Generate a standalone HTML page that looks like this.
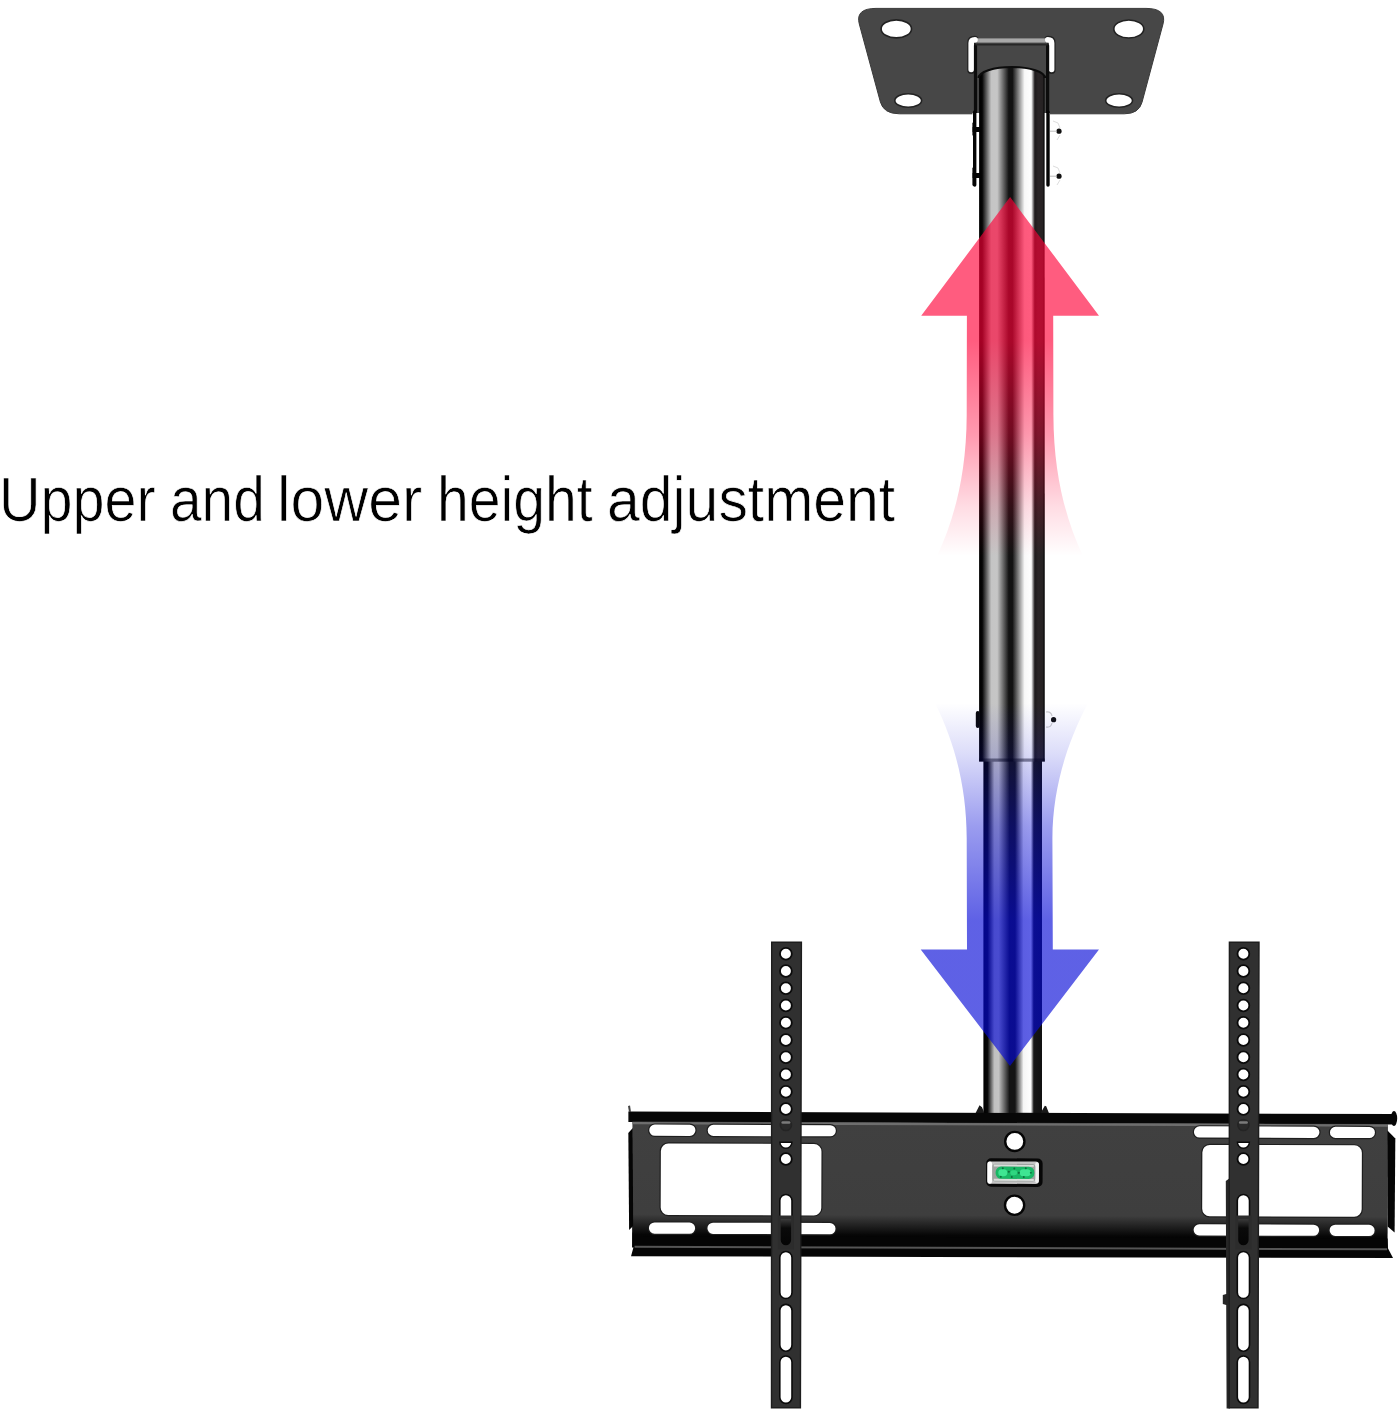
<!DOCTYPE html>
<html>
<head>
<meta charset="utf-8">
<title>Upper and lower height adjustment</title>
<style>
html,body{margin:0;padding:0;background:#fff;}
body{width:1399px;height:1418px;overflow:hidden;position:relative;font-family:"Liberation Sans",sans-serif;}
svg{position:absolute;left:0;top:0;display:block;filter:blur(0.7px);}
.cap{position:absolute;left:0;top:0;width:1399px;height:1418px;}
.cap span{position:absolute;top:458.8px;font-size:63px;line-height:80px;color:#000;white-space:nowrap;transform-origin:0 0;-webkit-text-stroke:0.7px #fff;font-family:"Liberation Sans",sans-serif;}
</style>
</head>
<body>
<svg width="1399" height="1418" viewBox="0 0 1399 1418">
<defs>
<linearGradient id="pole" x1="0" x2="1" y1="0" y2="0">
<stop offset="0" stop-color="#000"/>
<stop offset="0.047" stop-color="#050505"/>
<stop offset="0.185" stop-color="#c4c4c4"/>
<stop offset="0.276" stop-color="#c6c6c6"/>
<stop offset="0.452" stop-color="#121212"/>
<stop offset="0.507" stop-color="#121212"/>
<stop offset="0.692" stop-color="#f8f8f8"/>
<stop offset="0.794" stop-color="#fff"/>
<stop offset="0.848" stop-color="#1e1b1c"/>
<stop offset="0.90" stop-color="#2a2526"/>
<stop offset="0.965" stop-color="#262223"/>
<stop offset="0.99" stop-color="#0a0a0a"/>
<stop offset="1" stop-color="#0a0a0a"/>
</linearGradient>
<linearGradient id="pole2" x1="0" x2="1" y1="0" y2="0">
<stop offset="0" stop-color="#000"/>
<stop offset="0.072" stop-color="#080808"/>
<stop offset="0.186" stop-color="#c0c0c0"/>
<stop offset="0.26" stop-color="#c4c4c4"/>
<stop offset="0.445" stop-color="#141414"/>
<stop offset="0.54" stop-color="#141414"/>
<stop offset="0.685" stop-color="#f6f6f6"/>
<stop offset="0.81" stop-color="#fff"/>
<stop offset="0.86" stop-color="#161616"/>
<stop offset="1" stop-color="#101010"/>
</linearGradient>
<linearGradient id="redfade" x1="0" x2="0" y1="0" y2="1" gradientUnits="userSpaceOnUse">
<stop offset="0" stop-color="#fff"/>
</linearGradient>
</defs>
<rect width="1399" height="1418" fill="#fff"/>
<!--CEILING-->
<g>
<path d="M876,8.4 L1146,8.4 Q1167.2,8.4 1163,24 L1142,102.3 Q1138.9,113.8 1124.4,113.8 L899.4,113.8 Q883.6,113.8 880.4,102 L859.3,24 Q855.1,8.4 876,8.4 Z" fill="#474747" stroke="#3a3a3a" stroke-width="1"/>
<ellipse cx="896.3" cy="28.9" rx="15.2" ry="9" fill="#fff" stroke="#222" stroke-width="1.6"/>
<ellipse cx="1128.8" cy="29" rx="15" ry="9" fill="#fff" stroke="#222" stroke-width="1.6"/>
<ellipse cx="908.2" cy="100.5" rx="13.4" ry="6.8" fill="#fff" stroke="#222" stroke-width="1.6"/>
<ellipse cx="1119.1" cy="100.5" rx="13.4" ry="6.8" fill="#fff" stroke="#222" stroke-width="1.6"/>
<!-- U bracket -->
<path d="M971.2,70 L971.2,43 Q971.2,39.8 974.5,39.8" fill="none" stroke="#222" stroke-width="8" stroke-linecap="round"/>
<path d="M1051.6,70 L1051.6,43 Q1051.6,39.8 1048.3,39.8" fill="none" stroke="#222" stroke-width="8" stroke-linecap="round"/>
<rect x="974" y="38.4" width="75" height="4.2" fill="#a8a8a8"/>
<path d="M971.2,69.5 L971.2,43 Q971.2,39.8 975,39.8" fill="none" stroke="#fff" stroke-width="5.6" stroke-linecap="round"/>
<path d="M1051.6,69.5 L1051.6,43 Q1051.6,39.8 1047.8,39.8" fill="none" stroke="#fff" stroke-width="5.6" stroke-linecap="round"/>
<rect x="976" y="43" width="71" height="71" fill="#474747"/>
<path d="M975.5,113 L975.5,45.5 M1047.6,113 L1047.6,45.5" fill="none" stroke="#0c0c0c" stroke-width="3.2" stroke-linecap="round"/><path d="M975.5,44.6 L1047.6,44.6" stroke="#262626" stroke-width="1.8"/>
<!-- legs below plate -->
<rect x="972.5" y="113" width="8" height="74" fill="#fff"/>
<rect x="1043" y="113" width="7" height="74" fill="#fff"/>
<path d="M974.7,112 L974.7,185" fill="none" stroke="#050505" stroke-width="3.4" stroke-linecap="round"/>
<path d="M1048,112 L1048,185" fill="none" stroke="#050505" stroke-width="3.4" stroke-linecap="round"/>
<rect x="972.6" y="127" width="8" height="5" fill="#050505"/>
<rect x="972.6" y="173" width="8" height="5" fill="#050505"/>
<rect x="972.4" y="122" width="3" height="14" rx="1.5" fill="#050505"/>
<rect x="972.4" y="167" width="3" height="19" rx="1.5" fill="#050505"/>
<circle cx="1059" cy="131.2" r="2.6" fill="#111"/>
<circle cx="1059" cy="176.2" r="2.6" fill="#111"/>
<path d="M1050,131.2 L1057,131.2 M1050,176.2 L1057,176.2" stroke="#bbb" stroke-width="1"/>
<path d="M1053,121 L1058,123 L1060,128 M1060,135 L1057,140 M1053,166 L1058,168 L1060,173 M1060,180 L1057,185" fill="none" stroke="#ddd" stroke-width="1"/>
</g>
<!--POLE-->
<g>
<!-- inner (lower) pole -->
<rect x="983.4" y="755" width="58.6" height="358" fill="url(#pole2)"/>
<!-- outer (upper) pole -->
<path d="M979.1,77 A32.8,10 0 0 1 1044.6,77 L1044.8,761.5 L979.1,761.5 Z" fill="url(#pole)"/>
<path d="M978.6,78 A33.2,11 0 0 1 1045,78" fill="none" stroke="#0c0c0c" stroke-width="2.2"/>
<rect x="979.1" y="758.5" width="65.7" height="3.2" fill="#000" opacity="0.45"/>
<!-- mid bolts -->
<rect x="975.8" y="711" width="4" height="17" rx="2" fill="#0a0a0a"/>
<circle cx="1053.6" cy="719.7" r="2.6" fill="#111"/>
<path d="M1046,712 Q1051,711 1052,716 M1046,727 Q1051,728 1052,723" fill="none" stroke="#ccc" stroke-width="1.2"/>
</g>
<!--BRACKET-->
<defs>
<linearGradient id="plateg" x1="0" x2="0" y1="1121" y2="1247" gradientUnits="userSpaceOnUse">
<stop offset="0" stop-color="#404040"/>
<stop offset="0.74" stop-color="#3e3e3e"/>
<stop offset="0.90" stop-color="#060606"/>
<stop offset="1" stop-color="#000"/>
</linearGradient>
</defs>
<g transform="rotate(0.187 628 1111.6)">
<!-- pole foot tabs -->
<path d="M975.5,1112 L979.5,1104 L982,1106 L984.5,1112 Z M1040.5,1112 L1044.8,1104.3 L1046.2,1105 L1049,1112 Z" fill="#1a1a1a"/>
<!-- top lip -->
<rect x="628.4" y="1111.6" width="767" height="10.3" fill="#070707"/>
<path d="M629,1112 L628,1106 L630,1105.5 L631,1112 Z" fill="#444"/>
<ellipse cx="1394" cy="1116" rx="3.2" ry="7.5" fill="#070707"/>
<!-- main plate -->
<rect x="632.5" y="1121.6" width="755.5" height="126" fill="url(#plateg)"/>
<rect x="632.5" y="1122" width="755.5" height="2.2" fill="#6e6e6e"/>
<!-- side flanges -->
<path d="M628.4,1133 L632.8,1128 L633.5,1226 L629.5,1230 Z" fill="#050505"/>
<path d="M1387.5,1128 L1395.4,1136 L1395,1230 L1388,1224 Z" fill="#050505"/>
<!-- bottom lip -->
<path d="M634,1236 L1388,1236 L1388.5,1246 L1393.5,1255.6 L631.5,1256.2 L634,1247 Z" fill="#050505"/>
<rect x="635" y="1245.8" width="752.5" height="2" fill="#555"/>
<rect x="649.3" y="1124.5" width="46.2" height="11.2" rx="5.6" fill="#fff" stroke="#1e1e1e" stroke-width="2.4" paint-order="stroke"/>
<rect x="707.8" y="1124.5" width="128.1" height="11.2" rx="5.6" fill="#fff" stroke="#1e1e1e" stroke-width="2.4" paint-order="stroke"/>
<rect x="1194" y="1124.5" width="125.5" height="11.2" rx="5.6" fill="#fff" stroke="#1e1e1e" stroke-width="2.4" paint-order="stroke"/>
<rect x="1330" y="1124.5" width="45.0" height="11.2" rx="5.6" fill="#fff" stroke="#1e1e1e" stroke-width="2.4" paint-order="stroke"/>
<rect x="649.3" y="1222.4" width="46.2" height="11.2" rx="5.6" fill="#fff" stroke="#1e1e1e" stroke-width="2.4" paint-order="stroke"/>
<rect x="707.8" y="1222.4" width="128.1" height="11.2" rx="5.6" fill="#fff" stroke="#1e1e1e" stroke-width="2.4" paint-order="stroke"/>
<rect x="1194" y="1222.4" width="125.5" height="11.2" rx="5.6" fill="#fff" stroke="#1e1e1e" stroke-width="2.4" paint-order="stroke"/>
<rect x="1330" y="1222.4" width="45.0" height="11.2" rx="5.6" fill="#fff" stroke="#1e1e1e" stroke-width="2.4" paint-order="stroke"/>
<rect x="661" y="1143.4" width="160.6" height="71.4" rx="7.5" fill="#fff" stroke="#1e1e1e" stroke-width="2.4" paint-order="stroke"/>
<rect x="1202.5" y="1143" width="159.5" height="71.4" rx="7.5" fill="#fff" stroke="#1e1e1e" stroke-width="2.4" paint-order="stroke"/>
<!-- centre holes -->
<circle cx="1014.9" cy="1140.2" r="9.6" fill="#fff" stroke="#050505" stroke-width="2.4"/>
<circle cx="1014.9" cy="1204" r="9.6" fill="#fff" stroke="#050505" stroke-width="2.4"/>
<!-- bubble level -->
<rect x="986.3" y="1157.1" width="56.5" height="28.5" rx="5" fill="#070707"/>
<rect x="987.6" y="1160.2" width="51.6" height="22.4" rx="3.5" fill="#c4c4c4"/>
<rect x="987.6" y="1160.2" width="4.6" height="22.4" rx="2" fill="#fff"/>
<rect x="1035.4" y="1161" width="3.6" height="20.8" rx="1.8" fill="#f2f2f2"/>
<rect x="992.5" y="1162.6" width="43" height="17.6" rx="3" fill="#9ea3a0"/>
<rect x="994" y="1163.4" width="40" height="2" fill="#d8dcd9"/>
<rect x="994" y="1177.6" width="40" height="2" fill="#d8dcd9"/>
<rect x="995.8" y="1165.4" width="38.7" height="12.2" rx="5.5" fill="#19b765"/>
<rect x="998.5" y="1168" width="9" height="7" rx="3.5" fill="#3fe592"/>
<rect x="1010.5" y="1169" width="7" height="5" rx="2.5" fill="#2fd680"/>
<rect x="1020" y="1168" width="11" height="7" rx="3.5" fill="#3fe592"/>
<g fill="#0a5c33" opacity="0.8">
<circle cx="1003" cy="1167" r="1"/><circle cx="1009" cy="1170.5" r="1.1"/><circle cx="1014.5" cy="1167.2" r="1"/>
<circle cx="1019" cy="1171.5" r="1.1"/><circle cx="1026" cy="1167" r="1"/><circle cx="1001" cy="1175.6" r="1"/>
<circle cx="1012" cy="1175.8" r="1"/><circle cx="1024" cy="1175.8" r="1"/><circle cx="1031" cy="1171.5" r="1"/>
</g>
</g>
<!--ARMS-->
<defs>
<linearGradient id="recess" x1="0" x2="0" y1="1219" y2="1245" gradientUnits="userSpaceOnUse">
<stop offset="0" stop-color="#3a3a3a"/>
<stop offset="0.35" stop-color="#0a0a0a"/>
<stop offset="1" stop-color="#050505"/>
</linearGradient>
</defs>
<g>
<path d="M771.7,942.2 L801.4,942.2 L800.4,1407.8 L771.5,1407.8 Z" fill="#303030" stroke="#1d1d1d" stroke-width="1.4"/>
<circle cx="785.9" cy="953.8" r="5.9" fill="#fff" stroke="#0a0a0a" stroke-width="1.8"/>
<circle cx="785.9" cy="971.0" r="5.9" fill="#fff" stroke="#0a0a0a" stroke-width="1.8"/>
<circle cx="785.9" cy="988.3" r="5.9" fill="#fff" stroke="#0a0a0a" stroke-width="1.8"/>
<circle cx="785.9" cy="1005.5" r="5.9" fill="#fff" stroke="#0a0a0a" stroke-width="1.8"/>
<circle cx="785.9" cy="1022.8" r="5.9" fill="#fff" stroke="#0a0a0a" stroke-width="1.8"/>
<circle cx="785.9" cy="1040.0" r="5.9" fill="#fff" stroke="#0a0a0a" stroke-width="1.8"/>
<circle cx="785.9" cy="1057.2" r="5.9" fill="#fff" stroke="#0a0a0a" stroke-width="1.8"/>
<circle cx="785.9" cy="1074.5" r="5.9" fill="#fff" stroke="#0a0a0a" stroke-width="1.8"/>
<circle cx="785.9" cy="1091.7" r="5.9" fill="#fff" stroke="#0a0a0a" stroke-width="1.8"/>
<circle cx="785.9" cy="1109.0" r="5.9" fill="#fff" stroke="#0a0a0a" stroke-width="1.8"/>
<circle cx="785.9" cy="1125" r="5.6" fill="#2a2a2a" stroke="#242424" stroke-width="1.5"/>
<rect x="781.4" y="1121.2" width="9" height="2.6" rx="1.3" fill="#7a7a7a"/>
<path d="M779.9,1142.2 L791.9,1142.2 A6,6 0 0 1 779.9,1142.2 Z" fill="#fff" stroke="#0a0a0a" stroke-width="1.4"/>
<circle cx="785.9" cy="1159" r="5.9" fill="#fff" stroke="#0a0a0a" stroke-width="1.8"/>
<rect x="779.8" y="1194.5" width="12.2" height="40" rx="6.1" fill="#fff" stroke="#0a0a0a" stroke-width="1.6"/>
<rect x="777.9" y="1215.5" width="16" height="34" fill="#2c2c2c"/>
<path d="M780.6999999999999,1219 L791.1,1219 L791.1,1240 A5.2,5.2 0 0 1 780.6999999999999,1240 Z" fill="url(#recess)"/>
<rect x="779.8" y="1251.5" width="12.2" height="47.0" rx="6.1" fill="#fff" stroke="#0a0a0a" stroke-width="1.6"/>
<rect x="779.8" y="1304.4" width="12.2" height="46.8" rx="6.1" fill="#fff" stroke="#0a0a0a" stroke-width="1.6"/>
<rect x="779.8" y="1356" width="12.2" height="47.4" rx="6.1" fill="#fff" stroke="#0a0a0a" stroke-width="1.6"/>
<path d="M1225.8000000000002,1181 L1229.9,1178 L1229.9,1408.5 L1226.6000000000001,1408.5 L1226.2,1305 L1222.8000000000002,1304 L1222.8000000000002,1295 L1226.2,1294 Z" fill="#262626"/>
<path d="M1229.4,942.2 L1259.0,942.2 L1258.0,1407.8 L1229.2,1407.8 Z" fill="#303030" stroke="#1d1d1d" stroke-width="1.4"/>
<circle cx="1243.4" cy="953.8" r="5.9" fill="#fff" stroke="#0a0a0a" stroke-width="1.8"/>
<circle cx="1243.4" cy="971.0" r="5.9" fill="#fff" stroke="#0a0a0a" stroke-width="1.8"/>
<circle cx="1243.4" cy="988.3" r="5.9" fill="#fff" stroke="#0a0a0a" stroke-width="1.8"/>
<circle cx="1243.4" cy="1005.5" r="5.9" fill="#fff" stroke="#0a0a0a" stroke-width="1.8"/>
<circle cx="1243.4" cy="1022.8" r="5.9" fill="#fff" stroke="#0a0a0a" stroke-width="1.8"/>
<circle cx="1243.4" cy="1040.0" r="5.9" fill="#fff" stroke="#0a0a0a" stroke-width="1.8"/>
<circle cx="1243.4" cy="1057.2" r="5.9" fill="#fff" stroke="#0a0a0a" stroke-width="1.8"/>
<circle cx="1243.4" cy="1074.5" r="5.9" fill="#fff" stroke="#0a0a0a" stroke-width="1.8"/>
<circle cx="1243.4" cy="1091.7" r="5.9" fill="#fff" stroke="#0a0a0a" stroke-width="1.8"/>
<circle cx="1243.4" cy="1109.0" r="5.9" fill="#fff" stroke="#0a0a0a" stroke-width="1.8"/>
<circle cx="1243.4" cy="1125" r="5.6" fill="#2a2a2a" stroke="#242424" stroke-width="1.5"/>
<rect x="1238.9" y="1121.2" width="9" height="2.6" rx="1.3" fill="#7a7a7a"/>
<path d="M1237.4,1142.2 L1249.4,1142.2 A6,6 0 0 1 1237.4,1142.2 Z" fill="#fff" stroke="#0a0a0a" stroke-width="1.4"/>
<circle cx="1243.4" cy="1159" r="5.9" fill="#fff" stroke="#0a0a0a" stroke-width="1.8"/>
<rect x="1237.3000000000002" y="1194.5" width="12.2" height="40" rx="6.1" fill="#fff" stroke="#0a0a0a" stroke-width="1.6"/>
<rect x="1235.4" y="1215.5" width="16" height="34" fill="#2c2c2c"/>
<path d="M1238.2,1219 L1248.6000000000001,1219 L1248.6000000000001,1240 A5.2,5.2 0 0 1 1238.2,1240 Z" fill="url(#recess)"/>
<rect x="1237.3000000000002" y="1251.5" width="12.2" height="47.0" rx="6.1" fill="#fff" stroke="#0a0a0a" stroke-width="1.6"/>
<rect x="1237.3000000000002" y="1304.4" width="12.2" height="46.8" rx="6.1" fill="#fff" stroke="#0a0a0a" stroke-width="1.6"/>
<rect x="1237.3000000000002" y="1356" width="12.2" height="47.4" rx="6.1" fill="#fff" stroke="#0a0a0a" stroke-width="1.6"/>
</g>
<!--ARROWS-->
<defs>
<linearGradient id="redg" x1="0" x2="0" y1="197" y2="556" gradientUnits="userSpaceOnUse">
<stop offset="0" stop-color="#ff0037" stop-opacity="0.64"/>
<stop offset="0.40" stop-color="#ff0037" stop-opacity="0.64"/>
<stop offset="0.66" stop-color="#ff0037" stop-opacity="0.40"/>
<stop offset="0.86" stop-color="#ff0037" stop-opacity="0.14"/>
<stop offset="1" stop-color="#ff0037" stop-opacity="0"/>
</linearGradient>
<linearGradient id="blueg" x1="0" x2="0" y1="1066" y2="703" gradientUnits="userSpaceOnUse">
<stop offset="0" stop-color="#0408d7" stop-opacity="0.64"/>
<stop offset="0.40" stop-color="#0408d7" stop-opacity="0.64"/>
<stop offset="0.66" stop-color="#0408d7" stop-opacity="0.40"/>
<stop offset="0.86" stop-color="#0408d7" stop-opacity="0.14"/>
<stop offset="1" stop-color="#0408d7" stop-opacity="0"/>
</linearGradient>
</defs>
<path d="M1010.1,197 L1099,315.8 L1053.2,315.8 L1053.4,415 C1053.6,475 1066,520 1083,556 L937,556 C954,520 966.5,475 966.7,415 L966.9,315.8 L921.2,315.8 Z" fill="url(#redg)"/>
<path d="M1010,1066 L1099,949.4 L1052.8,949.4 L1052.4,838 C1052.6,790 1066,745 1088,703 L935,703 C956,745 966.5,790 966.7,838 L967,949.4 L920.7,949.4 Z" fill="url(#blueg)"/>
</svg>
<div class="cap"><span style="left:-1.44px;transform:scaleX(0.9129)">Upper</span><span style="left:169.85px;transform:scaleX(0.9021)">and</span><span style="left:277.38px;transform:scaleX(0.9641)">lower</span><span style="left:436.91px;transform:scaleX(0.9072)">height</span><span style="left:607.45px;transform:scaleX(0.9352)">adjustment</span></div>
</body>
</html>
